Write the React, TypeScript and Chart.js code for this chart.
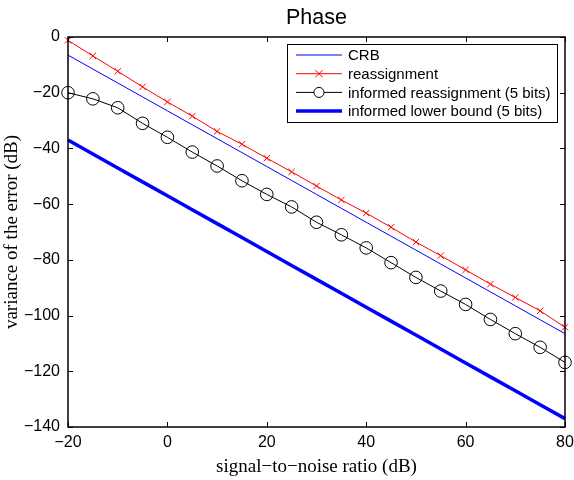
import { useEffect, useRef } from 'react'
import { Chart, registerables } from 'chart.js'

Chart.register(...registerables)

// SNR (dB) grid where every series was sampled
const snr = [-20, -15, -10, -5, 0, 5, 10, 15, 20, 25, 30, 35, 40, 45, 50, 55, 60, 65, 70, 75, 80]

const crb = [-6.5, -11.5, -16.5, -21.5, -26.5, -31.5, -36.5, -41.5, -46.5, -51.5, -56.5, -61.5, -66.5, -71.5, -76.5, -81.5, -86.5, -91.5, -96.5, -101.5, -106.5]
const reassignment = [-1.2, -6.8, -12.3, -17.9, -23.3, -28.4, -33.9, -38.5, -43.5, -48.4, -53.5, -58.5, -63.2, -68.3, -73.6, -78.5, -83.6, -88.7, -93.5, -98.3, -104.2]
const informedReassignment = [-20, -22.2, -25.4, -31, -36, -41.3, -46.3, -51.6, -56.5, -61, -66.5, -71, -75.7, -81, -86.3, -91.2, -96, -101.4, -106.5, -111.4, -116.8]
const informedLowerBound = [-37, -42, -47, -52, -57, -62, -67, -72, -77, -82, -87, -92, -97, -102, -107, -112, -117, -122, -127, -132, -137]

const seriesLabels = ['CRB', 'reassignment', 'informed reassignment (5 bits)', 'informed lower bound (5 bits)']

const xTicks = [-20, 0, 20, 40, 60, 80]
const yTicks = [0, -20, -40, -60, -80, -100, -120, -140]

const SANS = '"Liberation Sans", Arial, sans-serif'
const SERIF = '"Liberation Serif", "Times New Roman", serif'

const toPoints = (ys: number[]) => ys.map((y, i) => ({ x: snr[i], y }))
const fmt = (v: number | string) => String(v).replace('-', '\u2212')

// matlab-like frame: full box with inward ticks on all sides
const framePlugin = {
  id: 'frame',
  afterDatasetsDraw(chart: any) {
    const { ctx, chartArea: a, scales } = chart
    const len = 5
    ctx.save()
    ctx.strokeStyle = '#000'
    ctx.lineWidth = 1
    ctx.beginPath()
    xTicks.forEach(v => {
      const px = Math.round(scales.x.getPixelForValue(v)) + 0.5
      ctx.moveTo(px, a.bottom); ctx.lineTo(px, a.bottom - len)
      ctx.moveTo(px, a.top); ctx.lineTo(px, a.top + len)
    })
    yTicks.forEach(v => {
      const py = Math.round(scales.y.getPixelForValue(v)) + 0.5
      ctx.moveTo(a.left, py); ctx.lineTo(a.left + len, py)
      ctx.moveTo(a.right, py); ctx.lineTo(a.right - len, py)
    })
    ctx.stroke()
    ctx.lineWidth = 1.5
    ctx.strokeRect(a.left, a.top, a.right - a.left, a.bottom - a.top)
    ctx.restore()
  },
}

const legendPlugin = {
  id: 'boxLegend',
  afterDraw(chart: any) {
    const { ctx, chartArea: a } = chart
    const w = 270
    const h = 78
    const left = a.right - 8 - w
    const top = a.top + 7
    ctx.save()
    ctx.fillStyle = '#fff'
    ctx.fillRect(left, top, w, h)
    ctx.strokeStyle = '#000'
    ctx.lineWidth = 1
    ctx.strokeRect(left + 0.5, top + 0.5, w, h)
    ctx.font = `15px ${SANS}`
    ctx.textBaseline = 'middle'
    chart.data.datasets.forEach((ds: any, i: number) => {
      const y = top + 11 + i * 18.7
      const x0 = left + 9
      const x1 = left + 55
      ctx.strokeStyle = ds.borderColor
      ctx.lineWidth = ds.borderWidth
      ctx.beginPath()
      ctx.moveTo(x0, y); ctx.lineTo(x1, y)
      ctx.stroke()
      if (ds.pointRadius > 0) {
        ctx.lineWidth = 1
        const r = ds.pointRadius * 0.8
        const cx = (x0 + x1) / 2
        ctx.beginPath()
        if (ds.pointStyle === 'circle') {
          ctx.fillStyle = '#fff'
          ctx.arc(cx, y, r, 0, Math.PI * 2)
          ctx.fill()
        } else {
          ctx.moveTo(cx - r, y - r); ctx.lineTo(cx + r, y + r)
          ctx.moveTo(cx - r, y + r); ctx.lineTo(cx + r, y - r)
        }
        ctx.stroke()
      }
      ctx.fillStyle = '#000'
      ctx.fillText(ds.label, left + 61, y + 1)
    })
    ctx.restore()
  },
}

export default function App() {
  const canvasRef = useRef<HTMLCanvasElement>(null)
  const chartRef = useRef<Chart | null>(null)

  useEffect(() => {
    document.body.style.margin = '0'
    if (!canvasRef.current) return
    if (chartRef.current) chartRef.current.destroy()

    chartRef.current = new Chart(canvasRef.current, {
      type: 'line',
      data: {
        datasets: [
          {
            label: seriesLabels[0],
            data: toPoints(crb),
            borderColor: '#0000ff',
            borderWidth: 1,
            pointRadius: 0,
            clip: false,
          },
          {
            label: seriesLabels[1],
            data: toPoints(reassignment),
            borderColor: '#ff0000',
            borderWidth: 1,
            pointStyle: 'crossRot',
            pointRadius: 4.5,
            pointBorderWidth: 1,
            pointBorderColor: '#ff0000',
            clip: false,
          },
          {
            label: seriesLabels[2],
            data: toPoints(informedReassignment),
            borderColor: '#000000',
            borderWidth: 1,
            pointStyle: 'circle',
            pointRadius: 6.3,
            pointBorderWidth: 1,
            pointBorderColor: '#000000',
            pointBackgroundColor: 'rgba(0,0,0,0)',
            clip: false,
          },
          {
            label: seriesLabels[3],
            data: toPoints(informedLowerBound),
            borderColor: '#0000ff',
            borderWidth: 3.5,
            pointRadius: 0,
            clip: false,
          },
        ] as any,
      },
      options: {
        responsive: false,
        animation: false,
        events: [],
        layout: { padding: { left: 0, right: 9, top: 0, bottom: 0 } },
        plugins: {
          legend: { display: false },
          tooltip: { enabled: false },
          title: {
            display: true,
            text: 'Phase',
            fullSize: false,
            color: '#000',
            font: { family: SANS, size: 21.5, weight: 'normal' },
            padding: { top: 5, bottom: 6.2 },
          },
        },
        scales: {
          x: {
            type: 'linear',
            min: -20,
            max: 80,
            afterBuildTicks: (s: any) => { s.ticks = xTicks.map(v => ({ value: v })) },
            afterFit: (s: any) => {
              s.height = 53
              s.paddingLeft = 0
              s.paddingRight = 0
            },
            grid: { display: false, drawTicks: false },
            border: { display: false },
            ticks: {
              color: '#000',
              padding: 6,
              maxRotation: 0,
              font: { family: SANS, size: 16 },
              callback: (v: any) => fmt(v),
            },
            title: {
              display: true,
              text: 'signal\u2212to\u2212noise ratio (dB)',
              color: '#000',
              font: { family: SERIF, size: 19 },
              padding: { top: 0, bottom: 1.6 },
            },
          },
          y: {
            type: 'linear',
            min: -140,
            max: 0,
            afterBuildTicks: (s: any) => { s.ticks = yTicks.map(v => ({ value: v })) },
            afterFit: (s: any) => {
              s.width = 68
              s.paddingTop = 0
              s.paddingBottom = 0
            },
            grid: { display: false, drawTicks: false },
            border: { display: false },
            ticks: {
              color: '#000',
              padding: 8,
              font: { family: SANS, size: 16 },
              callback: (v: any) => fmt(v),
            },
            title: {
              display: true,
              text: 'variance of the error (dB)',
              color: '#000',
              font: { family: SERIF, size: 19 },
              padding: { top: 0.6, bottom: 0 },
            },
          },
        },
      },
      plugins: [framePlugin, legendPlugin],
    })

    return () => {
      if (chartRef.current) {
        chartRef.current.destroy()
        chartRef.current = null
      }
    }
  }, [])

  return (
    <div style={{ width: 574, height: 480 }}>
      <canvas ref={canvasRef} width={574} height={480} />
    </div>
  )
}
